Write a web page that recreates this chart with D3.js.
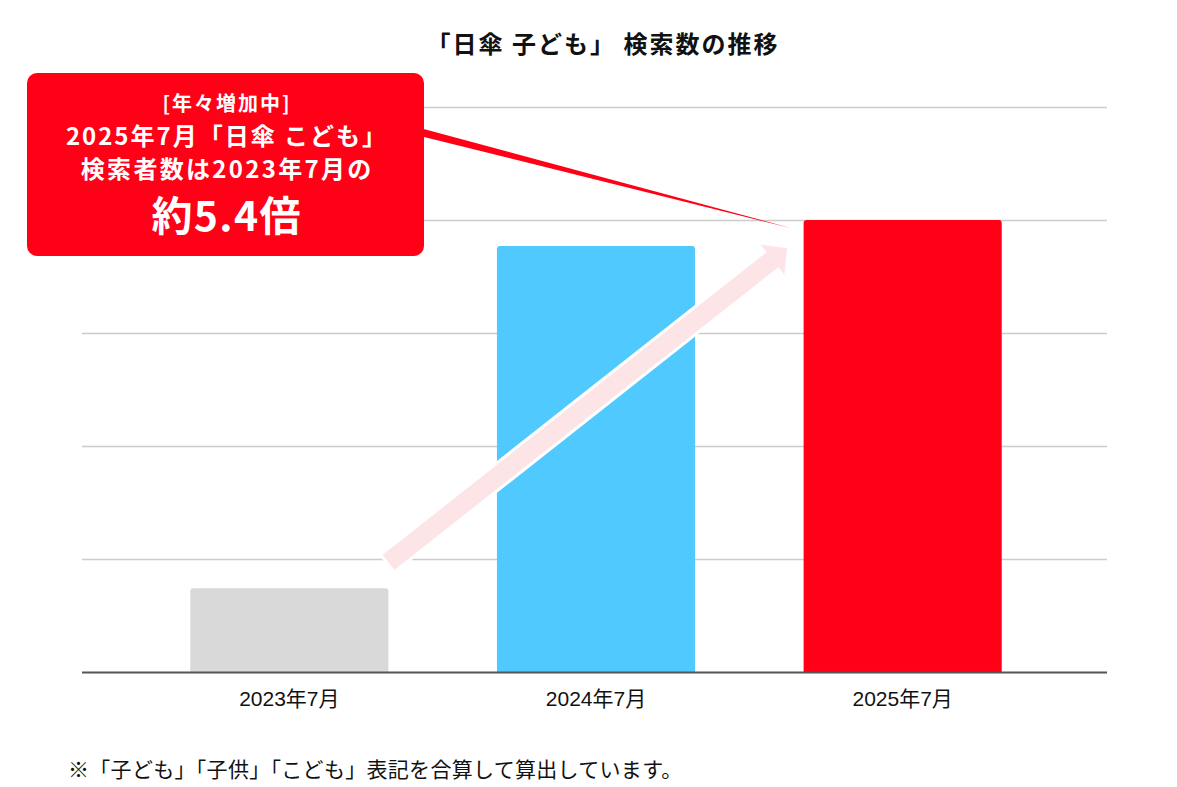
<!DOCTYPE html>
<html>
<head>
<meta charset="utf-8">
<title>日傘 子ども 検索数の推移</title>
<script src="https://cdn.jsdelivr.net/npm/d3@7"></script>
<style>
body { margin: 0; background: #fff; }
.title {
  font-family: "Noto Sans CJK JP", sans-serif;
  font-weight: bold;
  font-size: 24px;
  letter-spacing: 2px;
  fill: #111;
  text-anchor: middle;
}
.grid line { stroke: #cccccc; stroke-width: 1.5; }
.grid path { display: none; }
.axis--x path { stroke: #555; stroke-width: 2; }
.axis--x line { display: none; }
.axis--x text {
  font-family: "Liberation Sans", "Noto Sans CJK JP", sans-serif;
  font-size: 21px;
  fill: #111;
}
.callout--text {
  font-family: "Noto Sans CJK JP", sans-serif;
  font-weight: bold;
  fill: #fff;
  text-anchor: middle;
}
.note {
  font-family: "Noto Sans CJK JP", sans-serif;
  font-size: 21px;
  letter-spacing: 0.3px;
  fill: #111;
}
</style>
</head>
<body>
<svg width="1177" height="787"></svg>
<script>
// data (relative search index, 2023年7月 = 100)
var categories = ["2023年7月", "2024年7月", "2025年7月"];
var values = [100, 509, 540];
var barColors = ["#d9d9d9", "#4fc9fe", "#ff0016"];
var gridTicks = [135, 270, 405, 540, 675];

var titleText = "「日傘 子ども」 検索数の推移";
var calloutLines = ["[年々増加中]", "2025年7月「日傘 こども」", "検索者数は2023年7月の", "約5.4倍"];
var noteText = "※「子ども」「子供」「こども」表記を合算して算出しています。";

var svg = d3.select("svg");
var plot = { left: 82, right: 1107, top: 107, bottom: 672 };

var x = d3.scaleBand()
  .domain(categories)
  .range([136, 1056])
  .paddingInner(0.354)
  .paddingOuter(0.177);
var y = d3.scaleLinear()
  .domain([0, 675])
  .range([plot.bottom, plot.top]);

svg.append("text")
  .attr("class", "title")
  .attr("x", 603)
  .attr("y", 53)
  .text(titleText);

// gridlines
svg.append("g")
  .attr("class", "grid")
  .attr("transform", `translate(${plot.left},0)`)
  .call(d3.axisLeft(y).tickValues(gridTicks).tickSize(-(plot.right - plot.left)).tickFormat(""));

// bars, rounded top corners
function barPath(x0, w, yTop, yBot, r) {
  return `M${x0},${yBot}V${yTop + r}Q${x0},${yTop} ${x0 + r},${yTop}H${x0 + w - r}Q${x0 + w},${yTop} ${x0 + w},${yTop + r}V${yBot}Z`;
}
svg.append("g").selectAll("path")
  .data(values)
  .enter().append("path")
  .attr("d", function(d, i) { return barPath(x(categories[i]), x.bandwidth(), y(d), y(0), 3); })
  .style("fill", function(d, i) { return barColors[i]; });

// x axis
var xAxis = svg.append("g")
  .attr("class", "axis axis--x")
  .attr("transform", `translate(0,${plot.bottom})`)
  .call(d3.axisBottom(x).tickSizeOuter(0).tickPadding(13));
xAxis.select(".domain").attr("d", `M${plot.left},0.5H${plot.right}`);

// trend arrow
var tail = [x(categories[0]) + x.bandwidth() - 1, y(values[0]) - 25];
var tip = [x(categories[2]) - 15, y(values[2]) + 27];
var dx = tip[0] - tail[0], dy = tip[1] - tail[1];
var len = Math.sqrt(dx * dx + dy * dy);
var ang = Math.atan2(dy, dx) * 180 / Math.PI;
var sw = 11, hw = 23, hl = 22;
var arrowPts = [[0, -sw], [len - hl, -sw], [len - hl, -hw], [len, 0], [len - hl, hw], [len - hl, sw], [0, sw]];
svg.append("polygon")
  .attr("points", arrowPts.map(function(p) { return p.join(","); }).join(" "))
  .attr("transform", `translate(${tail[0]},${tail[1]}) rotate(${ang})`)
  .style("fill", "#fde5e7")
  .style("stroke", "#fff")
  .style("stroke-width", 3)
  .style("stroke-linejoin", "miter");

// callout
var callout = svg.append("g");
callout.append("polygon")
  .attr("points", `420,128 420,136 ${x(categories[2]) - 13},${y(values[2]) + 8}`)
  .style("fill", "#ff0016");
callout.append("rect")
  .attr("x", 27).attr("y", 73)
  .attr("width", 397).attr("height", 183)
  .attr("rx", 10)
  .style("fill", "#ff0016");
var lineY = [111, 145, 178, 231];
var lineSize = [20, 24, 24, 41];
var lineSpacing = [2, 2, 2.3, 1.3];
callout.selectAll(".callout--text")
  .data(calloutLines)
  .enter().append("text")
  .attr("class", "callout--text")
  .attr("x", function(d, i) { return 226 + lineSpacing[i] / 2; })
  .attr("y", function(d, i) { return lineY[i]; })
  .style("font-size", function(d, i) { return lineSize[i] + "px"; })
  .style("letter-spacing", function(d, i) { return lineSpacing[i] + "px"; })
  .text(function(d) { return d; });

svg.append("text")
  .attr("class", "note")
  .attr("x", 68)
  .attr("y", 777)
  .text(noteText);
</script>
</body>
</html>
